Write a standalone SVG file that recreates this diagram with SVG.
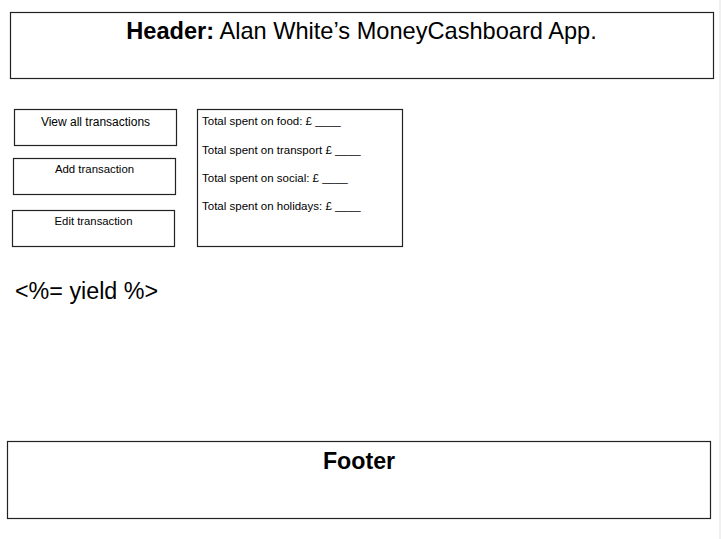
<svg xmlns="http://www.w3.org/2000/svg" width="721" height="539" viewBox="0 0 721 539">
<style>
.box{fill:#fff;stroke:#222;stroke-width:1.2}
.t{font-family:"Liberation Sans",Arial,sans-serif;fill:#000}
</style>
<rect width="721" height="539" fill="#fff"/>
<rect x="719" y="0" width="2" height="539" fill="#f0f0f0"/>
<g id="header">
<rect class="box" x="10.5" y="12.5" width="703" height="66"/>
<text class="t" x="361.5" y="39" font-size="23.6" text-anchor="middle"><tspan font-weight="bold">Header:</tspan> Alan White’s MoneyCashboard App.</text>
</g>
<g id="view-all">
<rect class="box" x="14.5" y="109.5" width="162" height="36"/>
<text class="t" x="95.5" y="126" font-size="12" text-anchor="middle">View all transactions</text>
</g>
<g id="add">
<rect class="box" x="13.5" y="158.5" width="162" height="36"/>
<text class="t" x="94.5" y="173" font-size="11.4" text-anchor="middle">Add transaction</text>
</g>
<g id="edit">
<rect class="box" x="12.5" y="210.5" width="162" height="36"/>
<text class="t" x="93.5" y="225" font-size="11.3" text-anchor="middle">Edit transaction</text>
</g>
<g id="totals">
<rect class="box" x="197.5" y="109.5" width="205" height="137"/>
<text class="t" x="202" y="125" font-size="11.5">Total spent on food: £ ____</text>
<text class="t" x="202" y="154" font-size="11.5">Total spent on transport £ ____</text>
<text class="t" x="202" y="182" font-size="11.5">Total spent on social: £ ____</text>
<text class="t" x="202" y="210" font-size="11.5">Total spent on holidays: £ ____</text>
</g>
<g id="yield">
<text class="t" x="15" y="298.5" font-size="23.3">&lt;%= yield %&gt;</text>
</g>
<g id="footer">
<rect class="box" x="7.5" y="441.5" width="703" height="77"/>
<text class="t" x="359" y="469" font-size="23.2" font-weight="bold" text-anchor="middle">Footer</text>
</g>
<g id="connectors"/>
</svg>
